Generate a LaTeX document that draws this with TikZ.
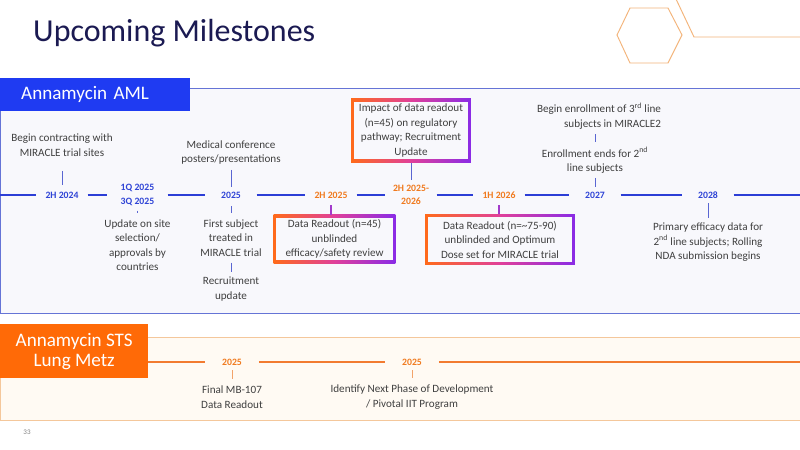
\documentclass[tikz,border=0pt]{standalone}
\usepackage{fontspec}
\setmainfont{Carlito}
\definecolor{titlec}{HTML}{1B1A52}
\definecolor{amlblue}{HTML}{1F3BF2}
\definecolor{linec}{HTML}{2C3ED6}
\definecolor{datec}{HTML}{2F44D6}
\definecolor{orgc}{HTML}{F07A1E}
\definecolor{textc}{HTML}{3F3F3F}
\definecolor{tickc}{HTML}{5A66D2}
\definecolor{ptickc}{HTML}{A23ACB}
\definecolor{panelc}{HTML}{F8F8FC}
\definecolor{amlborder}{HTML}{6574D6}
\definecolor{stspanel}{HTML}{FFFAF3}
\definecolor{stsborder}{HTML}{F4C79B}
\definecolor{stsorg}{HTML}{FF6A07}
\definecolor{stsline}{HTML}{F27B30}
\definecolor{otickc}{HTML}{F2A36A}
\definecolor{hexc}{HTML}{F3B47A}
\definecolor{gorg}{HTML}{FF6A1A}
\definecolor{gpink}{HTML}{E0409A}
\definecolor{gpur}{HTML}{8A2BE6}
\tikzset{
 txt/.style={align=center,text=textc,inner sep=0pt,font=\fontsize{9.5}{12.4}\selectfont},
 gframe/.style={fill=panelc,
  path picture={\shade[left color=gorg,right color=gpur,middle color=gpink]
   (path picture bounding box.north west) rectangle (path picture bounding box.south east);
   \fill[panelc] ([shift={(2.2pt,-2.2pt)}]path picture bounding box.north west)
   rectangle ([shift={(-2.2pt,2.2pt)}]path picture bounding box.south east);}},
 gbox/.style n args={2}{txt,gframe,minimum width=#1,minimum height=#2}
}
\begin{document}
\begin{tikzpicture}[x=0.03cm,y=-0.03cm,
 date/.style={align=center,inner sep=1pt,minimum width=43.5pt,minimum height=12pt,text=datec,font=\bfseries\fontsize{8.3}{11.6}\selectfont},
 odate/.style={date,text=orgc},
 tl/.style={draw=linec,line width=1.7pt},
 stl/.style={draw=stsline,line width=2pt},
 tick/.style={draw=tickc,line width=0.6pt},
 ptick/.style={draw=ptickc,line width=1pt},
 otick/.style={draw=otickc,line width=0.6pt},
 lab/.style={text=white,inner sep=0pt,anchor=north west,font=\fontsize{16.3}{17}\selectfont}
]
\useasboundingbox (0,0) rectangle (800,450);
\fill[white] (0,0) rectangle (800,450);
\node[anchor=base west,inner sep=0pt,text=titlec,font=\fontsize{27.3}{30}\selectfont] (title) at (33,42) {Upcoming Milestones};
\draw[hexc,line width=0.8pt] (617,35) -- (630,8) -- (668,8) -- (682,35) -- (668,63) -- (630,63) -- cycle;
\draw[hexc,line width=0.8pt] (676,-1) -- (694,37) -- (801,37);
\draw[amlborder,fill=panelc,line width=0.8pt] (0.5,88) rectangle (801,313);
\draw[stsborder,fill=stspanel,line width=0.8pt] (0.5,337) rectangle (801,420);
\node[lab,fill=amlblue,minimum width=162.2pt,minimum height=28.2pt,inner xsep=17.9pt,text width=126.4pt,align=left] (aml) at (0,78) {Annamycin AML};
\node[lab,fill=stsorg,minimum width=126.3pt,minimum height=46.1pt,align=center] (sts) at (0,324) {Annamycin STS\\Lung Metz};

\coordinate (t0) at (0,195);
\coordinate (t9) at (801,195);
\node[date] (d1) at (62,195) {2H 2024};
\node[date,minimum width=51.2pt] (d2) at (137.5,195) {1Q 2025\\3Q 2025};
\node[date] (d3) at (231,195) {2025};
\node[odate] (d4) at (331,195) {2H 2025};
\node[odate] (d5) at (411,195) {2H 2025-\\2026};
\node[odate] (d6) at (499,195) {1H 2026};
\node[date] (d7) at (595,195) {2027};
\node[date] (d8) at (708,195) {2028};
\draw[tl] (t0) -- (d1) -- (d2) -- (d3) -- (d4) -- (d5) -- (d6) -- (d7) -- (d8) -- (t9);

\node[txt] (m1) at (62,145) {Begin contracting with\\MIRACLE trial sites};
\node[txt] (m2) at (137.5,245) {Update on site\\selection/\\approvals by\\countries};
\node[txt] (m3) at (231,152.5) {Medical conference\\posters/presentations};
\node[txt] (m4) at (231,238) {First subject\\treated in\\MIRACLE trial};
\node[txt] (m5) at (231,289) {Recruitment\\update};
\node[gbox={104.1pt}{41pt}] (b1) at (334.5,239) {Data Readout (n=45)\\unblinded\\efficacy/safety review};
\node[gbox={102.4pt}{53.8pt}] (b2) at (411,130.5) {Impact of data readout\\(n=45) on regulatory\\pathway; Recruitment\\Update};
\node[gbox={128pt}{42.7pt}] (b3) at (500,239.5) {Data Readout (n=\textasciitilde75-90)\\unblinded and Optimum\\Dose set for MIRACLE trial};
\node[txt,align=right] (m7) at (599,116) {Begin enrollment of 3\textsuperscript{rd} line\\subjects in MIRACLE2};
\node[txt] (m6) at (595,160.5) {Enrollment ends for 2\textsuperscript{nd}\\line subjects};
\node[txt] (m8) at (708,242.5) {Primary efficacy data for\\2\textsuperscript{nd} line subjects; Rolling\\NDA submission begins};

\draw[tick,shorten <=12.4pt,shorten >=2.6pt] (m1.south) -- (d1.north);
\draw[tick,shorten <=3.1pt,shorten >=5.1pt] (d2.south) -- (m2.north);
\draw[tick,shorten <=4.3pt,shorten >=0.9pt] (m3.south) -- (d3.north);
\draw[tick,shorten <=3.4pt,shorten >=5.1pt] (d3.south) -- (m4.north);
\draw[tick,shorten <=5.1pt,shorten >=4.3pt] (m4.south) -- (m5.north);
\draw[ptick,shorten <=2.6pt] (d4.south) -- (d4.south |- b1.north);
\draw[tick,shorten <=0.9pt,shorten >=3.1pt] (b2.south) -- (b2.south |- d5.north);
\draw[ptick,shorten <=2.6pt] (d6.south) -- (d6.south |- b3.north);
\draw[tick,shorten <=3.4pt,shorten >=0.9pt] (m6.south) -- (d7.north);
\draw[tick,shorten <=4.3pt,shorten >=4.3pt] (m7.south -| m6.north) -- (m6.north);
\draw[tick,shorten <=0.9pt,shorten >=4.3pt] (d8.south) -- (m8.north);

\coordinate (u0) at (148,362);
\coordinate (u9) at (801,362);
\node[odate,minimum width=45.5pt] (e1) at (232,362) {2025};
\node[odate,minimum width=45.5pt] (e2) at (412,362) {2025};
\draw[stl] (u0) -- (e1) -- (e2) -- (u9);
\node[txt] (n1) at (232,397) {Final MB-107\\Data Readout};
\node[txt] (n2) at (412,397) {Identify Next Phase of Development\\/ Pivotal IIT Program};
\draw[otick,shorten <=0.9pt,shorten >=6pt] (e1.south) -- (n1.north);
\draw[otick,shorten <=0.9pt,shorten >=6pt] (e2.south) -- (n2.north);

\node[text=gray,font=\fontsize{6}{7}\selectfont] (pg) at (27,432) {33};
\end{tikzpicture}
\end{document}
